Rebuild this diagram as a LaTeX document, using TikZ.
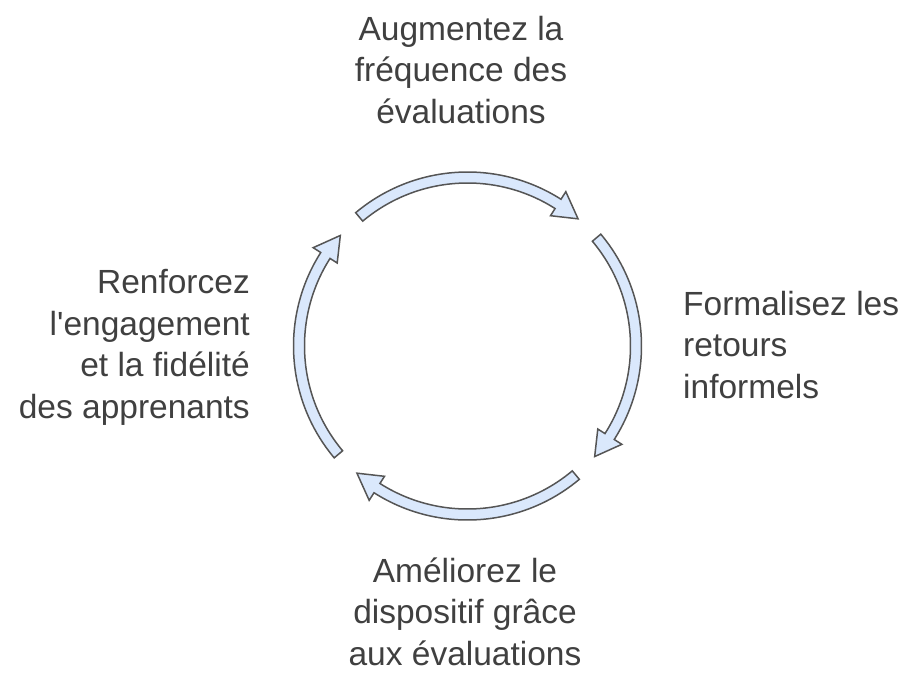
\documentclass[tikz,border=0pt]{standalone}
\usepackage{fontspec}
\setmainfont{Liberation Sans}[Ligatures=TeXOff]
\definecolor{arrowfill}{HTML}{DAE8FC}
\definecolor{arrowline}{HTML}{555555}
\definecolor{txt}{HTML}{404040}
\begin{document}
\begin{tikzpicture}[x=1pt,y=1pt,
  lbl/.style={font=\fontsize{33.5}{41.5}\selectfont, text=txt, inner sep=0pt},
  cyclearrow/.style={fill=arrowfill, draw=arrowline, line width=1.5pt, line join=miter}]
\useasboundingbox (0,0) rectangle (911,-678);
\def\Ro{174}\def\Ri{163}\def\Rm{168.5}\def\Rho{183}\def\Rhi{154.5}
\begin{scope}[shift={(467.5,-346)}]
\foreach \k in {0,1,2,3}{
  \pgfmathsetmacro\ta{130-90*\k}
  \pgfmathsetmacro\hb{57.5-90*\k}
  \pgfmathsetmacro\tp{49-90*\k}
  \draw[cyclearrow] (\ta:\Ro) arc[start angle=\ta, end angle=\hb, radius=\Ro]
     -- (\hb:\Rho) -- (\tp:\Rm) -- (\hb:\Rhi) -- (\hb:\Ri)
     arc[start angle=\hb, end angle=\ta, radius=\Ri] -- cycle;
}
\end{scope}
\node[lbl, align=center, anchor=base] (top) at (461,-123) {Augmentez la\\fréquence des\\évaluations};
\node[lbl, align=left, anchor=base west] (right) at (683,-398) {Formalisez les\\retours\\informels};
\node[lbl, align=center, anchor=base] (bottom) at (465,-665) {Améliorez le\\dispositif grâce\\aux évaluations};
\node[lbl, align=right, anchor=base east] (left) at (250,-418) {Renforcez\\l'engagement\\et la fidélité\\des apprenants};
\end{tikzpicture}
\end{document}
